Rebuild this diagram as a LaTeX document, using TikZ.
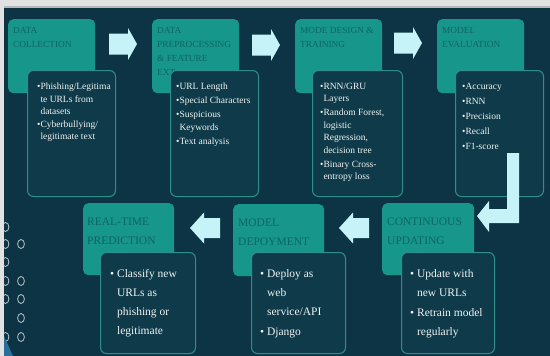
\documentclass[tikz,border=0pt]{standalone}
\usepackage{fontspec}
\setmainfont{Liberation Serif}
\usetikzlibrary{positioning}

\definecolor{framegray}{HTML}{E2E2E2}
\definecolor{pagebg}{HTML}{0C3444}
\definecolor{headteal}{HTML}{17968C}
\definecolor{headtext}{HTML}{0D6662}
\definecolor{bodyfill}{HTML}{0E3A49}
\definecolor{bodyline}{HTML}{2E8E8C}
\definecolor{bodytext}{HTML}{F0F4F4}
\definecolor{arrowfill}{HTML}{C6F3F8}
\definecolor{ringgray}{HTML}{B8C4C8}
\definecolor{cornerblue}{HTML}{2A6F9A}

% continuation indent under a bullet
\newcommand{\bcont}{\hphantom{•}}
\newcommand{\bcontw}{\hphantom{•~}}

\tikzset{
  headbox/.style={anchor=north west, inner sep=0pt, fill=headteal, rounded corners=5pt},
  bodybox/.style={anchor=north west, inner sep=0pt, fill=bodyfill, draw=bodyline, line width=1pt, rounded corners=6pt},
  headlabel/.style={anchor=north west, inner sep=0pt, align=left, text=headtext},
  bodylabel/.style={anchor=north west, inner sep=0pt, align=left, text=bodytext},
  smallhead/.style={font=\fontsize{9.3}{14}\selectfont},
  smallbody/.style={font=\fontsize{9.5}{12.5}\selectfont},
  bighead/.style={font=\fontsize{11.5}{19}\selectfont},
  bigbody/.style={font=\fontsize{11.5}{19}\selectfont},
  dotring/.style={draw=ringgray, line width=0.8pt},
  pics/rblock/.style={code={
    \fill[arrowfill] (0,-10.5) -- (19,-10.5) -- (19,-16) -- (28,0) -- (19,16) -- (19,10.5) -- (0,10.5) -- cycle;}},
  pics/lblock/.style={code={
    \fill[arrowfill] (0,-10) -- (-16,-10) -- (-16,-15.5) -- (-30,0) -- (-16,15.5) -- (-16,10) -- (0,10) -- cycle;}},
}

\begin{document}
\begin{tikzpicture}[x=1pt,y=-1pt]
    \useasboundingbox (0,0) rectangle (550,356);

    % Frame and slide background
    \fill[framegray] (0,0) rectangle (550,356);
    \fill[pagebg] (4,7) rectangle (550,356);

    % Decorative rings on the left
    \foreach \cx/\cy in {5.5/227, 5.5/244, 21/244, 5.5/262, 5.5/281, 21/281, 5.5/299, 21/299, 21/318, 5.5/337, 21/337}
        \draw[dotring] (\cx,\cy) ellipse [x radius=3.4pt, y radius=4.5pt];
    \fill[cornerblue] (4,336) -- (13,356) -- (4,356) -- cycle;
    \fill[framegray] (0,0) rectangle (4,356);
    \fill[gray!55] (4,6) rectangle (550,7.5);

    % Stage headers, top row
    \node[headbox, minimum width=87pt, minimum height=74pt] (h1) at (8,19) {};
    \node[headbox, minimum width=87pt, minimum height=74pt] (h2) at (152,19) {};
    \node[headbox, minimum width=87pt, minimum height=74pt] (h3) at (295,19) {};
    \node[headbox, minimum width=87pt, minimum height=74pt] (h4) at (437,19) {};
    \node[headlabel, smallhead] (h1t) at ([xshift=5pt,yshift=-8pt]h1.north west) {DATA\\COLLECTION};
    \node[headlabel, smallhead] (h2t) at ([xshift=5pt,yshift=-8pt]h2.north west) {DATA\\PREPROCESSING\\\& FEATURE\\EXT};
    \node[headlabel, smallhead] (h3t) at ([xshift=5pt,yshift=-8pt]h3.north west) {MODE DESIGN \&\\TRAINING};
    \node[headlabel, smallhead] (h4t) at ([xshift=5pt,yshift=-8pt]h4.north west) {MODEL\\EVALUATION};

    % Stage headers, bottom row
    \node[headbox, minimum width=92pt, minimum height=72pt] (h5) at (382,203) {};
    \node[headbox, minimum width=91pt, minimum height=72pt] (h6) at (233,204) {};
    \node[headbox, minimum width=91pt, minimum height=72pt] (h7) at (83,203) {};
    \node[headlabel, bighead] (h5t) at ([xshift=5pt,yshift=-15pt]h5.north west) {CONTINUOUS\\UPDATING};
    \node[headlabel, bighead] (h6t) at ([xshift=5pt,yshift=-15pt]h6.north west) {MODEL\\DEPOYMENT};
    \node[headlabel, bighead] (h7t) at ([xshift=4pt,yshift=-15pt]h7.north west) {REAL-TIME\\PREDICTION};

    % Detail boxes, top row
    \node[bodybox, minimum width=88pt, minimum height=126pt] (b1) at (27,70) {};
    \node[bodybox, minimum width=88pt, minimum height=126pt] (b2) at (170,70) {};
    \node[bodybox, minimum width=90pt, minimum height=126pt] (b3) at (312,70) {};
    \node[bodybox, minimum width=88pt, minimum height=126pt] (b4) at (455,70) {};
    \node[bodylabel, smallbody] (b1t) at ([xshift=10pt,yshift=-13pt]b1.north west)
        {•Phishing/Legitima\\\bcont te URLs from\\\bcont datasets\\•Cyberbullying/\\\bcont legitimate text};
    \node[bodylabel, smallbody] (b2t) at ([xshift=6pt,yshift=-13pt]b2.north west)
        {•URL Length\\[1.5pt]•Special Characters\\[1.5pt]•Suspicious\\\bcont Keywords\\[1.5pt]•Text analysis};
    \node[bodylabel, smallbody] (b3t) at ([xshift=8pt,yshift=-13pt]b3.north west)
        {•RNN/GRU\\\bcont Layers\\[1.5pt]•Random Forest,\\\bcont logistic\\\bcont Regression,\\\bcont decision tree\\[1.5pt]•Binary Cross-\\\bcont entropy loss};
    \node[bodylabel, smallbody] (b4t) at ([xshift=7pt,yshift=-13pt]b4.north west)
        {•Accuracy\\[2.5pt]•RNN\\[2.5pt]•Precision\\[2.5pt]•Recall\\[2.5pt]•F1-score};

    % Detail boxes, bottom row
    \node[bodybox, minimum width=93pt, minimum height=101pt] (b5) at (401,252) {};
    \node[bodybox, minimum width=94pt, minimum height=101pt] (b6) at (251,252) {};
    \node[bodybox, minimum width=95pt, minimum height=101pt] (b7) at (100,252) {};
    \node[bodylabel, bigbody] (b5t) at ([xshift=9pt,yshift=-17pt]b5.north west)
        {• Update with\\\bcontw new URLs\\[1pt]• Retrain model\\\bcontw regularly};
    \node[bodylabel, bigbody] (b6t) at ([xshift=9pt,yshift=-17pt]b6.north west)
        {• Deploy as\\\bcontw web\\\bcontw service/API\\[1pt]• Django};
    \node[bodylabel, bigbody] (b7t) at ([xshift=10pt,yshift=-17pt]b7.north west)
        {• Classify new\\\bcontw URLs as\\\bcontw phishing or\\\bcontw legitimate};

    % Flow arrows
    \pic at (109,44) {rblock};
    \pic at (252,45) {rblock};
    \pic at (394,43) {rblock};
    \fill[arrowfill] (507,153) -- (519,153) -- (519,223) -- (489,223) -- (489,232) -- (477,216)
        -- (489,201) -- (489,209) -- (507,209) -- cycle;
    \pic at (369,228) {lblock};
    \pic at (220,228) {lblock};
\end{tikzpicture}
\end{document}
